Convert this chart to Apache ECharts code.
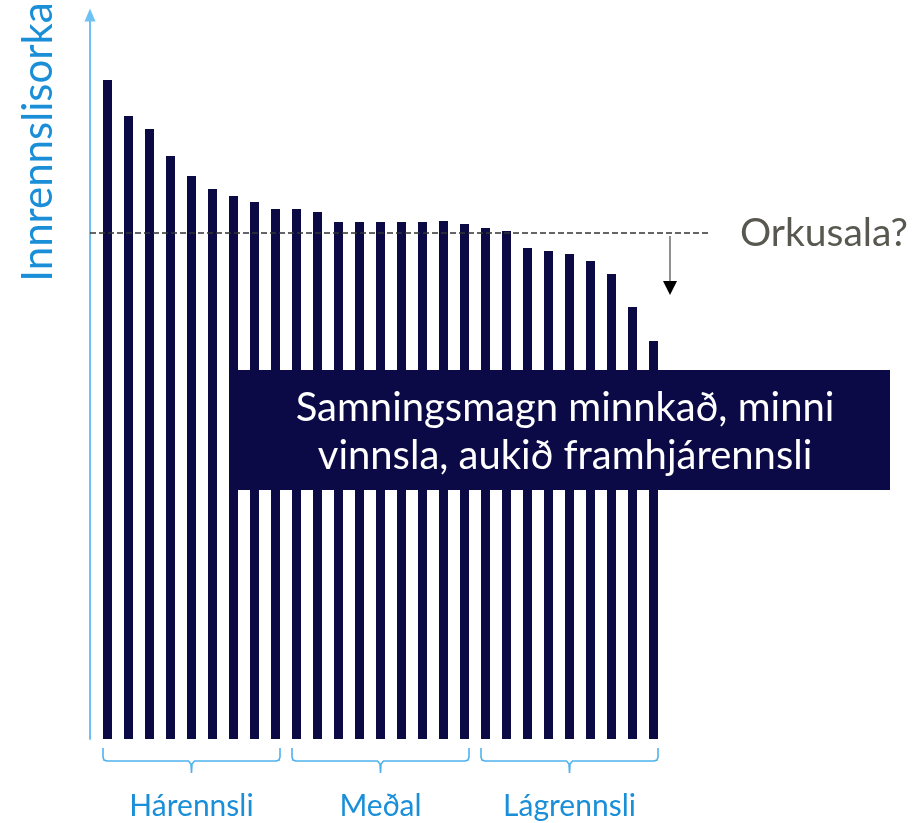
<!DOCTYPE html>
<html>
<head>
<meta charset="utf-8">
<script src="https://cdn.jsdelivr.net/npm/echarts@6/dist/echarts.min.js"></script>
<style>
  html, body { margin: 0; padding: 0; background: #ffffff; }
  #main { width: 919px; height: 823px; }
</style>
</head>
<body>
<div id="main"></div>
<script>
// innrennsli fyrir hverja virkjun / ár, raðað frá hæsta til lægsta
var categories = ['1', '2', '3', '4', '5', '6', '7', '8', '9', '10', '11', '12', '13', '14',
  '15', '16', '17', '18', '19', '20', '21', '22', '23', '24', '25', '26', '27']
var inflow = [659, 623, 610, 583, 563, 550, 543, 537, 530, 530, 527, 517, 517, 517,
  517, 517, 518, 515, 511, 508, 491, 488, 485, 478, 465, 432, 398]
var salesLevel = 506
var yMax = 724
// hópar: [fyrsti flokkur, síðasti flokkur, heiti]
var groups = [
  [0, 8, 'Hárennsli'],
  [9, 17, 'Meðal'],
  [18, 26, 'Lágrennsli']
]

var blue = '#1a8fd8'
var navy = '#0c0a45'
var font = 'Lato'

var myChart = echarts.init(document.getElementById('main'))

myChart.setOption({
  animation: false,
  grid: { left: 97, right: 255, top: 15, bottom: 84 },
  xAxis: {
    type: 'category',
    data: categories,
    axisLine: { show: false },
    axisTick: { show: false },
    axisLabel: { show: false }
  },
  yAxis: {
    type: 'value',
    min: 0,
    max: yMax,
    offset: 7,
    splitLine: { show: false },
    axisTick: { show: false },
    axisLabel: { show: false },
    axisLine: {
      show: true,
      lineStyle: { color: '#6ec1f5', width: 2 },
      symbol: ['none', 'triangle'],
      symbolSize: [11, 13]
    }
  },
  series: [{
    type: 'bar',
    data: inflow,
    barWidth: 9,
    itemStyle: { color: navy },
    z: 2
  }]
})

function drawExtras () {
  var ySales = myChart.convertToPixel({ yAxisIndex: 0 }, salesLevel)
  var yBase = myChart.convertToPixel({ yAxisIndex: 0 }, 0)
  var graphics = []

  // heiti y-áss
  graphics.push({
    type: 'text',
    x: 38,
    y: 142,
    rotation: Math.PI / 2,
    style: { text: 'Innrennslisorka', fill: blue, font: '42px ' + font, align: 'center', verticalAlign: 'middle' },
    z: 5
  })

  // brotalína fyrir orkusölu
  graphics.push({
    type: 'line',
    shape: { x1: 90, y1: ySales, x2: 708, y2: ySales },
    style: { stroke: '#333333', lineWidth: 1.3, lineDash: [6, 3] },
    z: 5
  })
  // ör niður
  graphics.push({
    type: 'line',
    shape: { x1: 670, y1: ySales + 3, x2: 670, y2: ySales + 50 },
    style: { stroke: '#6d6d6d', lineWidth: 1.5 },
    z: 5
  })
  graphics.push({
    type: 'polygon',
    shape: { points: [[663, ySales + 48], [677, ySales + 48], [670, ySales + 62]] },
    style: { fill: '#000000' },
    z: 5
  })
  graphics.push({
    type: 'text',
    x: 740,
    y: ySales,
    style: { text: 'Orkusala?', fill: '#585850', font: '39px ' + font, verticalAlign: 'middle' },
    z: 5
  })

  // kassi með skýringu
  graphics.push({
    type: 'rect',
    shape: { x: 236, y: 370, width: 654, height: 120 },
    style: { fill: '#0b0a47' },
    z: 10
  })
  graphics.push({
    type: 'text',
    x: 565,
    y: 432,
    style: {
      text: 'Samningsmagn minnkað, minni\nvinnsla, aukið framhjárennsli',
      fill: '#ffffff',
      font: '40px ' + font,
      align: 'center',
      verticalAlign: 'middle',
      lineHeight: 48
    },
    z: 11
  })

  // slaufusvigar og heiti hópa
  groups.forEach(function (g) {
    var xa = myChart.convertToPixel({ xAxisIndex: 0 }, categories[g[0]]) - 4.5
    var xb = myChart.convertToPixel({ xAxisIndex: 0 }, categories[g[1]]) + 4.5
    var xm = (xa + xb) / 2
    var top = yBase + 9
    var mid = yBase + 22
    var tip = yBase + 34
    var brace = [
      [xa, top], [xa, mid - 4], [xa + 1, mid - 1], [xa + 4, mid],
      [xm - 3, mid], [xm - 0.5, mid + 3], [xm, tip],
      [xm + 0.5, mid + 3], [xm + 3, mid],
      [xb - 4, mid], [xb - 1, mid - 1], [xb, mid - 4], [xb, top]
    ]
    graphics.push({
      type: 'polyline',
      shape: { points: brace },
      style: { stroke: '#4fb2ee', lineWidth: 1.6, fill: null },
      z: 5
    })
    graphics.push({
      type: 'text',
      x: xm,
      y: yBase + 67,
      style: { text: g[2], fill: blue, font: '30px ' + font, align: 'center', verticalAlign: 'middle' },
      z: 5
    })
  })

  myChart.setOption({ graphic: graphics })
}

drawExtras()
</script>
</body>
</html>
